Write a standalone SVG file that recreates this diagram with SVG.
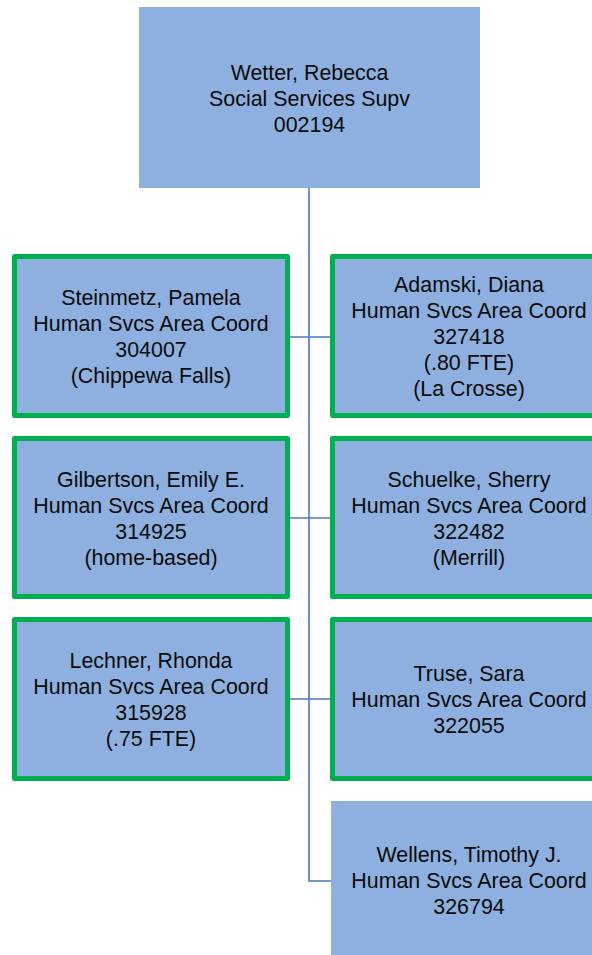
<svg xmlns="http://www.w3.org/2000/svg" width="592" height="955" viewBox="0 0 592 955">
<style>
.box{fill:#8EB0E0;}
.grn{fill:#8EB0E0;stroke:#00B050;stroke-width:5;stroke-linejoin:round;}
.con{fill:none;stroke:#4A78C4;stroke-width:1.6;}
text{font-family:"Liberation Sans",Arial,sans-serif;font-size:21.4px;fill:#0A0A0A;text-anchor:middle;}
</style>
<rect width="592" height="955" fill="#fff"/>
<g id="connectors">
<path class="con" d="M309 188V881H331"/>
<path class="con" d="M290 337H330"/>
<path class="con" d="M290 518H330"/>
<path class="con" d="M290 699H330"/>
</g>
<g id="wetter">
<rect class="box" x="139" y="7" width="341" height="181"/>
<text x="309.5" y="80">Wetter, Rebecca</text>
<text x="309.5" y="106">Social Services Supv</text>
<text x="309.5" y="132">002194</text>
</g>
<g id="steinmetz">
<rect class="grn" x="14.5" y="256.5" width="273" height="159"/>
<text x="151" y="305">Steinmetz, Pamela</text>
<text x="151" y="331">Human Svcs Area Coord</text>
<text x="151" y="357">304007</text>
<text x="151" y="383">(Chippewa Falls)</text>
</g>
<g id="adamski">
<rect class="grn" x="332.5" y="256.5" width="273" height="159"/>
<text x="469" y="292">Adamski, Diana</text>
<text x="469" y="318">Human Svcs Area Coord</text>
<text x="469" y="344">327418</text>
<text x="469" y="370">(.80 FTE)</text>
<text x="469" y="396">(La Crosse)</text>
</g>
<g id="gilbertson">
<rect class="grn" x="14.5" y="438.5" width="273" height="158"/>
<text x="151" y="487">Gilbertson, Emily E.</text>
<text x="151" y="513">Human Svcs Area Coord</text>
<text x="151" y="539">314925</text>
<text x="151" y="565">(home-based)</text>
</g>
<g id="schuelke">
<rect class="grn" x="332.5" y="438.5" width="273" height="158"/>
<text x="469" y="487">Schuelke, Sherry</text>
<text x="469" y="513">Human Svcs Area Coord</text>
<text x="469" y="539">322482</text>
<text x="469" y="565">(Merrill)</text>
</g>
<g id="lechner">
<rect class="grn" x="14.5" y="619.5" width="273" height="159"/>
<text x="151" y="668">Lechner, Rhonda</text>
<text x="151" y="694">Human Svcs Area Coord</text>
<text x="151" y="720">315928</text>
<text x="151" y="746">(.75 FTE)</text>
</g>
<g id="truse">
<rect class="grn" x="332.5" y="619.5" width="273" height="159"/>
<text x="469" y="681">Truse, Sara</text>
<text x="469" y="707">Human Svcs Area Coord</text>
<text x="469" y="733">322055</text>
</g>
<g id="wellens">
<rect class="box" x="331" y="801" width="278" height="160"/>
<text x="469" y="862">Wellens, Timothy J.</text>
<text x="469" y="888">Human Svcs Area Coord</text>
<text x="469" y="914">326794</text>
</g>
</svg>
